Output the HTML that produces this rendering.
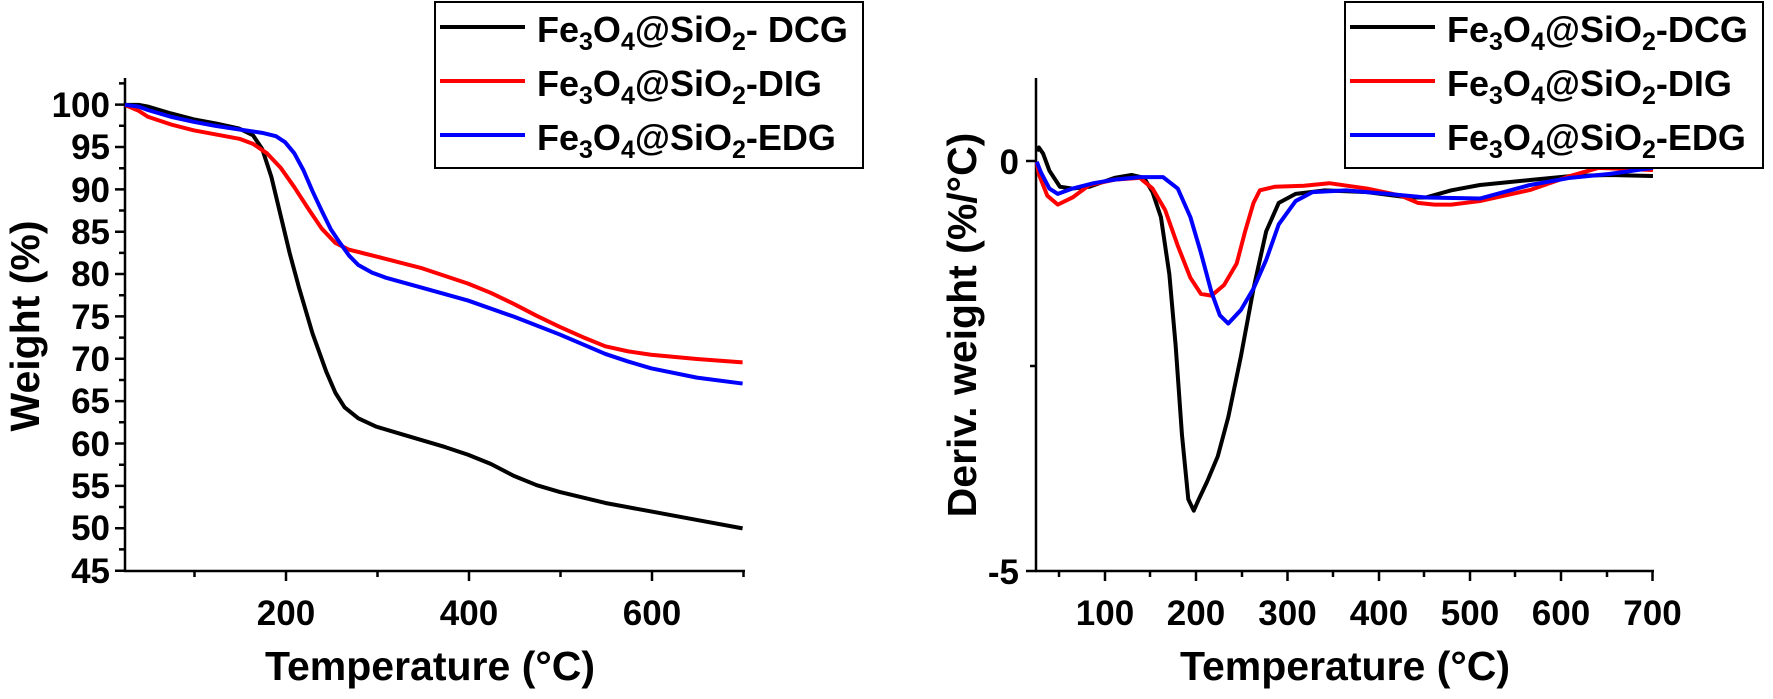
<!DOCTYPE html>
<html><head><meta charset="utf-8"><style>
html,body{margin:0;padding:0;background:#fff;}
svg{display:block;}
text{font-family:"Liberation Sans",Arial,sans-serif;font-weight:bold;fill:#000;}
</style></head><body>
<svg width="1773" height="699" viewBox="0 0 1773 699" xmlns="http://www.w3.org/2000/svg">
<!-- LEFT PLOT -->
<g stroke="#000" stroke-width="2.5" fill="none">
<line x1="125" y1="78" x2="125" y2="571"/>
<line x1="124" y1="571" x2="745" y2="571"/>
<path d="M115 104.6H125M115 147H125M115 189.4H125M115 231.7H125M115 274H125M115 316.4H125M115 358.8H125M115 401.1H125M115 443.5H125M115 485.9H125M115 528.2H125M115 570.7H125"/>
<path d="M119 83.4H125M119 125.8H125M119 168.2H125M119 210.5H125M119 252.9H125M119 295.2H125M119 337.6H125M119 380H125M119 422.3H125M119 464.7H125M119 507H125M119 549.4H125"/>
<path d="M286 571V581M469 571V581M652 571V581M194.5 571V577M377.5 571V577M560.5 571V577M743.5 571V577"/>
</g>
<g font-size="35" text-anchor="end">
<text x="110" y="117">100</text><text x="110" y="159">95</text><text x="110" y="202">90</text>
<text x="110" y="244">85</text><text x="110" y="286">80</text><text x="110" y="329">75</text>
<text x="110" y="371">70</text><text x="110" y="413">65</text><text x="110" y="456">60</text>
<text x="110" y="498">55</text><text x="110" y="540">50</text><text x="110" y="583">45</text>
</g>
<g font-size="35" text-anchor="middle">
<text x="286" y="625">200</text><text x="469" y="625">400</text><text x="652" y="625">600</text>
</g>
<text x="430" y="680" font-size="41" text-anchor="middle">Temperature (°C)</text>
<text transform="translate(39,326) rotate(-90)" font-size="41" text-anchor="middle">Weight (%)</text>
<g transform="matrix(0.915,0,0,-8.47,102.1,951.9)" fill="none" stroke-width="4" stroke-linejoin="round">
<polyline vector-effect="non-scaling-stroke" stroke="#000" points="25,100 40,100 50,99.8 75,99 100,98.3 125,97.8 150,97.2 165,96.4 175,94.8 185,91.5 195,87 205,82.5 215,78.5 230,73 245,68.5 255,66 265,64.3 280,63 300,62 325,61.2 350,60.4 375,59.6 400,58.7 425,57.6 450,56.2 475,55.1 500,54.3 550,53 600,52 650,51 700,50"/>
<polyline vector-effect="non-scaling-stroke" stroke="#f00" points="25,100 40,99.3 50,98.6 75,97.7 100,97 125,96.5 150,96 165,95.4 180,94.3 195,92.6 210,90.3 225,87.8 240,85.4 255,83.7 270,82.9 285,82.5 300,82.1 350,80.7 400,78.9 425,77.8 450,76.5 475,75.1 500,73.8 525,72.6 550,71.5 575,70.9 600,70.5 650,70 700,69.6"/>
<polyline vector-effect="non-scaling-stroke" stroke="#00f" points="25,100 40,99.8 50,99.4 75,98.6 100,98 125,97.5 150,97.1 175,96.7 190,96.3 200,95.6 210,94.3 220,92.3 230,89.8 240,87.5 250,85.3 260,83.7 270,82.2 280,81.1 295,80.2 310,79.6 350,78.4 400,76.9 450,75 500,72.9 550,70.6 575,69.7 600,68.9 650,67.8 700,67.1"/>
</g>
<rect x="435" y="2" width="428" height="166" fill="none" stroke="#000" stroke-width="2"/>
<g stroke-width="4"><line x1="440" y1="27" x2="525" y2="27" stroke="#000"/><line x1="440" y1="81" x2="525" y2="81" stroke="#f00"/><line x1="440" y1="135" x2="525" y2="135" stroke="#00f"/></g>
<g font-size="36">
<text x="537" y="42">Fe<tspan font-size="25" dy="8">3</tspan><tspan dy="-8">O</tspan><tspan font-size="25" dy="8">4</tspan><tspan dy="-8">@SiO</tspan><tspan font-size="25" dy="8">2</tspan><tspan dy="-8">- DCG</tspan></text>
<text x="537" y="96">Fe<tspan font-size="25" dy="8">3</tspan><tspan dy="-8">O</tspan><tspan font-size="25" dy="8">4</tspan><tspan dy="-8">@SiO</tspan><tspan font-size="25" dy="8">2</tspan><tspan dy="-8">-DIG</tspan></text>
<text x="537" y="150">Fe<tspan font-size="25" dy="8">3</tspan><tspan dy="-8">O</tspan><tspan font-size="25" dy="8">4</tspan><tspan dy="-8">@SiO</tspan><tspan font-size="25" dy="8">2</tspan><tspan dy="-8">-EDG</tspan></text>
</g>

<!-- RIGHT PLOT -->
<g stroke="#000" stroke-width="2.5" fill="none">
<line x1="1036" y1="78" x2="1036" y2="571"/>
<line x1="1035" y1="571" x2="1654" y2="571"/>
<path d="M1026 161H1036M1026 571H1036M1030 366H1036"/>
<path d="M1105 571V581M1196 571V581M1287.5 571V581M1379 571V581M1470 571V581M1561 571V581M1652.5 571V581"/>
<path d="M1059 571V577M1150 571V577M1242 571V577M1333 571V577M1424 571V577M1515 571V577M1607 571V577"/>
</g>
<g font-size="35" text-anchor="end"><text x="1019" y="174">0</text><text x="1019" y="584">-5</text></g>
<g font-size="35" text-anchor="middle">
<text x="1105" y="625">100</text><text x="1196" y="625">200</text><text x="1287.5" y="625">300</text><text x="1379" y="625">400</text><text x="1470" y="625">500</text><text x="1561" y="625">600</text><text x="1652.5" y="625">700</text>
</g>
<text x="1345" y="680" font-size="41" text-anchor="middle">Temperature (°C)</text>
<text transform="translate(976,325) rotate(-90)" font-size="41" text-anchor="middle">Deriv. weight (%/°C)</text>
<g transform="translate(820,60) scale(0.4209,0.3571)" fill="none" stroke-width="4" stroke-linejoin="round">
<polyline vector-effect="non-scaling-stroke" stroke="#000" points="515,255 520,245 530,262 545,310 570,355 600,360 640,355 700,330 740,322 770,330 790,370 810,440 830,600 845,800 860,1050 875,1230 888,1262 900,1230 920,1180 945,1110 970,1000 1000,830 1030,640 1060,480 1090,400 1130,375 1200,365 1300,370 1400,385 1440,385 1500,365 1568,350 1687,336 1782,325 1877,322 1979,325"/>
<polyline vector-effect="non-scaling-stroke" stroke="#f00" points="515,285 520,320 540,380 565,405 600,385 640,350 700,335 760,330 790,360 820,420 850,520 880,610 905,655 930,660 960,630 990,570 1010,480 1030,400 1045,365 1080,355 1150,352 1210,345 1300,360 1380,380 1420,400 1460,405 1500,405 1568,395 1687,364 1782,325 1850,302 1979,308"/>
<polyline vector-effect="non-scaling-stroke" stroke="#00f" points="515,285 525,315 545,360 565,375 600,360 650,345 700,335 760,328 815,328 850,360 880,440 905,540 930,650 950,715 970,738 1000,700 1030,640 1060,560 1090,460 1130,395 1170,370 1250,365 1350,375 1440,385 1568,388 1687,350 1782,330 1877,319 1979,302"/>
</g>
<rect x="1345" y="2" width="418" height="166" fill="#fff" stroke="#000" stroke-width="2"/>
<g stroke-width="4"><line x1="1350" y1="27" x2="1435" y2="27" stroke="#000"/><line x1="1350" y1="81" x2="1435" y2="81" stroke="#f00"/><line x1="1350" y1="135" x2="1435" y2="135" stroke="#00f"/></g>
<g font-size="36">
<text x="1447" y="42">Fe<tspan font-size="25" dy="8">3</tspan><tspan dy="-8">O</tspan><tspan font-size="25" dy="8">4</tspan><tspan dy="-8">@SiO</tspan><tspan font-size="25" dy="8">2</tspan><tspan dy="-8">-DCG</tspan></text>
<text x="1447" y="96">Fe<tspan font-size="25" dy="8">3</tspan><tspan dy="-8">O</tspan><tspan font-size="25" dy="8">4</tspan><tspan dy="-8">@SiO</tspan><tspan font-size="25" dy="8">2</tspan><tspan dy="-8">-DIG</tspan></text>
<text x="1447" y="150">Fe<tspan font-size="25" dy="8">3</tspan><tspan dy="-8">O</tspan><tspan font-size="25" dy="8">4</tspan><tspan dy="-8">@SiO</tspan><tspan font-size="25" dy="8">2</tspan><tspan dy="-8">-EDG</tspan></text>
</g>
</svg>
</body></html>
